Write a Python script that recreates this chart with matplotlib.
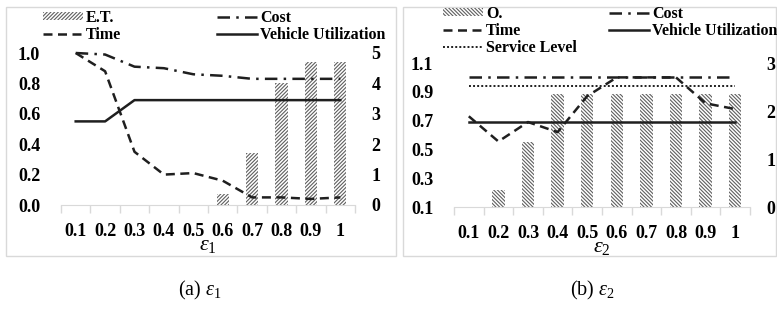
# Sensitivity of the objectives to epsilon_1 and epsilon_2
import matplotlib.pyplot as plt
from matplotlib.patches import Patch, Rectangle
from matplotlib.lines import Line2D

# ---------------- data ----------------
eps = ['0.1', '0.2', '0.3', '0.4', '0.5', '0.6', '0.7', '0.8', '0.9', '1']

# panel (a)  epsilon_1
a_et   = [0, 0, 0, 0, 0, 0.35, 1.7, 4.0, 4.7, 4.7]
a_cost = [1.0, 0.99, 0.91, 0.90, 0.86, 0.85, 0.83, 0.83, 0.83, 0.83]
a_time = [1.0, 0.88, 0.35, 0.20, 0.21, 0.16, 0.05, 0.05, 0.04, 0.05]
a_vu   = [0.55, 0.55, 0.69, 0.69, 0.69, 0.69, 0.69, 0.69, 0.69, 0.69]

# panel (b)  epsilon_2
b_o       = [0, 0.35, 1.35, 2.35, 2.35, 2.35, 2.35, 2.35, 2.35, 2.35]
b_cost    = [1.0] * 10
b_time    = [0.73, 0.555, 0.69, 0.62, 0.87, 1.0, 1.0, 1.0, 0.82, 0.78]
b_vu      = [0.69] * 10
b_service = [0.94] * 10

# ---------------- style ----------------
plt.rcParams['font.family'] = ['Liberation Serif', 'DejaVu Serif']
plt.rcParams['mathtext.fontset'] = 'custom'
plt.rcParams['mathtext.it'] = 'Liberation Serif:italic'
plt.rcParams['mathtext.rm'] = 'Liberation Serif'
plt.rcParams['hatch.linewidth'] = 0.8

W, H = 777, 314
LINE = '#1f1f1f'
GRID = '#d9d9d9'
HATCH = '#5f5f5f'
LW = 1.8
DASH = [3.6, 2.2]
DASHDOT = [5, 2.5, 1, 2.5]
DOT = [1, 1.1]
HATCH_A = '/' * 9
HATCH_B = '\\' * 9

fig = plt.figure(figsize=(W / 100, H / 100), dpi=100)


def px_axes(x0, y0, x1, y1):
    # axes from pixel box (top-left origin)
    return fig.add_axes([x0 / W, 1 - y1 / H, (x1 - x0) / W, (y1 - y0) / H])


def style(ax, ax2):
    ax.set_xlim(-0.5, len(eps) - 0.5)
    ax.set_xticks(list(range(len(eps))))
    ax.set_xticklabels(eps, fontsize=13, fontweight='bold')
    ax.set_xticks([i - 0.5 for i in range(len(eps) + 1)], minor=True)
    ax.tick_params(axis='x', which='major', length=0, pad=13)
    ax.tick_params(axis='x', which='minor', length=6, color=GRID, width=1)
    ax.tick_params(axis='y', length=0, pad=15, labelsize=13)
    ax2.tick_params(axis='y', length=0, pad=12, labelsize=13)
    for lab in ax.get_yticklabels() + ax2.get_yticklabels():
        lab.set_fontweight('bold')
    for a in (ax, ax2):
        for s in ['top', 'left', 'right', 'bottom']:
            a.spines[s].set_visible(False)
    ax.spines['bottom'].set_visible(True)
    ax.spines['bottom'].set_color(GRID)
    # lines above bars
    ax.set_zorder(ax2.get_zorder() + 1)
    ax.patch.set_visible(False)


x = list(range(len(eps)))
leg_kw = dict(ncol=2, loc='upper left', frameon=False,
              prop={'size': 11.5, 'weight': 'bold'}, handlelength=2.5,
              handleheight=0.4, handletextpad=0.2, labelspacing=0.05,
              borderpad=0, borderaxespad=0)

# ================= panel (a) =================
ax = px_axes(61, 53, 355, 205)
ax2 = ax.twinx()
ax2.bar(x, a_et, width=0.42, color='white', edgecolor=HATCH, hatch=HATCH_A, linewidth=0)
ax.plot(x, a_cost, color=LINE, lw=LW, dashes=DASHDOT, clip_on=False)
ax.plot(x, a_time, color=LINE, lw=LW, dashes=DASH, clip_on=False)
ax.plot(x, a_vu, color=LINE, lw=LW, clip_on=False)
ax.set_ylim(0, 1.0)
ax.set_yticks([0, 0.2, 0.4, 0.6, 0.8, 1.0])
ax.set_yticklabels(['0.0', '0.2', '0.4', '0.6', '0.8', '1.0'])
ax2.set_ylim(0, 5)
ax2.set_yticks([0, 1, 2, 3, 4, 5])
style(ax, ax2)
ax.set_xlabel(r'$\varepsilon_1$', fontsize=16, labelpad=-3)

ha = [Patch(facecolor='white', edgecolor=HATCH, hatch=HATCH_A, linewidth=0),
      Line2D([], [], color=LINE, lw=LW, dashes=DASH),
      Line2D([], [], color=LINE, lw=LW, dashes=DASHDOT),
      Line2D([], [], color=LINE, lw=LW)]
la = ['E.T.', 'Time', 'Cost', 'Vehicle Utilization']
fig.legend(ha, la, bbox_to_anchor=(43 / W, 1 - 10 / H), columnspacing=6.0, **leg_kw)

# ================= panel (b) =================
bx = px_axes(454, 63, 750, 207)
bx2 = bx.twinx()
bx2.bar(x, b_o, width=0.42, color='white', edgecolor=HATCH, hatch=HATCH_B, linewidth=0)
bx.plot(x, b_cost, color=LINE, lw=LW, dashes=DASHDOT, clip_on=False)
bx.plot(x, b_service, color=LINE, lw=1.4, dashes=DOT, clip_on=False)
bx.plot(x, b_time, color=LINE, lw=LW, dashes=DASH, clip_on=False)
bx.plot(x, b_vu, color=LINE, lw=LW, clip_on=False)
bx.set_ylim(0.1, 1.1)
bx.set_yticks([0.1, 0.3, 0.5, 0.7, 0.9, 1.1])
bx2.set_ylim(0, 3)
bx2.set_yticks([0, 1, 2, 3])
style(bx, bx2)
bx.set_xlabel(r'$\varepsilon_2$', fontsize=16, labelpad=-3)

hb = [Patch(facecolor='white', edgecolor=HATCH, hatch=HATCH_B, linewidth=0),
      Line2D([], [], color=LINE, lw=LW, dashes=DASH),
      Line2D([], [], color=LINE, lw=1.4, dashes=DOT),
      Line2D([], [], color=LINE, lw=LW, dashes=DASHDOT),
      Line2D([], [], color=LINE, lw=LW)]
lb = ['O.', 'Time', 'Service Level', 'Cost', 'Vehicle Utilization']
fig.legend(hb, lb, bbox_to_anchor=(443 / W, 1 - 6 / H), columnspacing=2.0, **leg_kw)

# panel borders
for x0, x1 in [(6, 396), (403, 776)]:
    fig.add_artist(Rectangle((x0 / W, 1 - 256 / H), (x1 - x0) / W, 249 / H,
                             transform=fig.transFigure, fill=False,
                             edgecolor=GRID, lw=1))

# captions
fig.text(200 / W, 1 - 290 / H, r'(a) $\varepsilon_1$', ha='center', va='center', fontsize=14.5)
fig.text(592 / W, 1 - 290 / H, r'(b) $\varepsilon_2$', ha='center', va='center', fontsize=14.5)

fig.savefig('out.png', dpi=100)
